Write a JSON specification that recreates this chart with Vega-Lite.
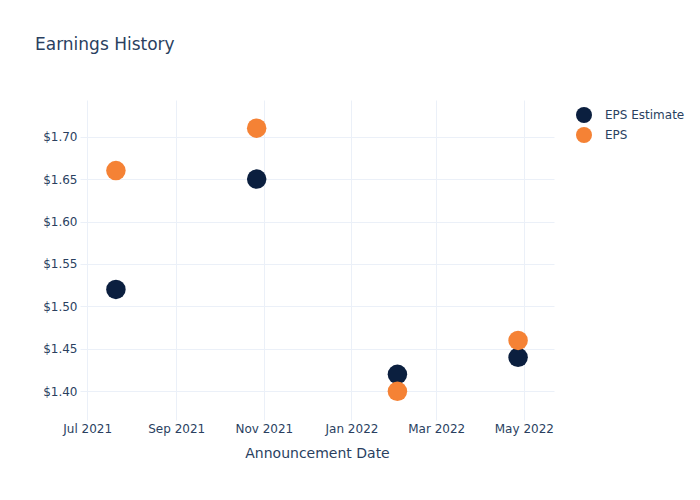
{
  "$schema": "https://vega.github.io/schema/vega-lite/v6.json",
  "width": 474,
  "height": 320,
  "autosize": "none",
  "padding": {"left": 80, "top": 100, "right": 146, "bottom": 80},
  "background": "white",
  "config": {
    "font": "DejaVu Sans",
    "view": {"stroke": null}
  },
  "title": {
    "text": "Earnings History",
    "anchor": "start",
    "frame": "group",
    "dx": -45,
    "offset": 46,
    "fontSize": 17,
    "fontWeight": "normal",
    "color": "#2a3f5f",
    "font": "DejaVu Sans"
  },
  "data": {
    "values": [
      {"date": "2021-07-21", "series": "EPS Estimate", "value": 1.52},
      {"date": "2021-07-21", "series": "EPS", "value": 1.66},
      {"date": "2021-10-27", "series": "EPS Estimate", "value": 1.65},
      {"date": "2021-10-27", "series": "EPS", "value": 1.71},
      {"date": "2022-02-02", "series": "EPS Estimate", "value": 1.42},
      {"date": "2022-02-02", "series": "EPS", "value": 1.40},
      {"date": "2022-04-27", "series": "EPS Estimate", "value": 1.44},
      {"date": "2022-04-27", "series": "EPS", "value": 1.46}
    ]
  },
  "mark": {"type": "circle", "size": 380, "opacity": 1},
  "encoding": {
    "x": {
      "field": "date",
      "type": "temporal",
      "title": "Announcement Date",
      "scale": {"type": "utc", "domain": ["2021-06-26", "2022-05-22"]},
      "axis": {
        "labelExpr": "utcFormat(datum.value, '%b %Y')",
        "tickCount": {"interval": "month", "step": 2},
        "domain": false,
        "ticks": false,
        "grid": true,
        "gridColor": "#ebf0f8",
        "labelColor": "#2a3f5f",
        "labelFontSize": 12,
        "labelPadding": 3,
        "titleColor": "#2a3f5f",
        "titleFontSize": 14,
        "titleFontWeight": "normal",
        "titlePadding": 12,
        "labelFlush": false
      }
    },
    "y": {
      "field": "value",
      "type": "quantitative",
      "title": null,
      "scale": {"domain": [1.3662, 1.7432], "nice": false, "zero": false},
      "axis": {
        "values": [1.40, 1.45, 1.50, 1.55, 1.60, 1.65, 1.70],
        "format": "$.2f",
        "domain": false,
        "ticks": false,
        "grid": true,
        "gridColor": "#ebf0f8",
        "labelColor": "#2a3f5f",
        "labelFontSize": 12,
        "labelPadding": 3
      }
    },
    "color": {
      "field": "series",
      "type": "nominal",
      "scale": {"domain": ["EPS Estimate", "EPS"], "range": ["#0b1f3f", "#f58235"]},
      "legend": {
        "title": null,
        "orient": "none",
        "legendX": 495,
        "legendY": 6,
        "padding": 0,
        "symbolType": "circle",
        "symbolSize": 256,
        "symbolOpacity": 1,
        "rowPadding": 3,
        "labelOffset": 12,
        "labelFontSize": 12,
        "labelColor": "#2a3f5f"
      }
    }
  }
}
